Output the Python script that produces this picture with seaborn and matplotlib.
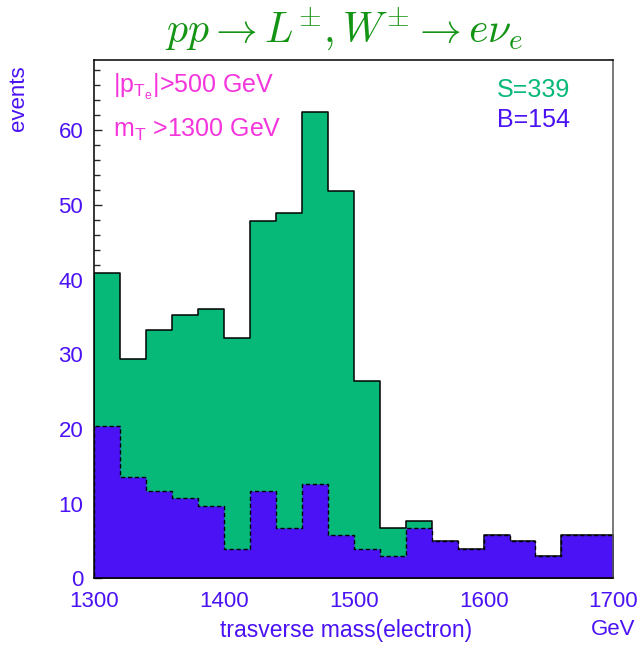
import numpy as np
import pandas as pd
import seaborn as sns
import matplotlib.pyplot as plt

# bin low edges (GeV), 20 GeV wide
mass_lo = [1300, 1320, 1340, 1360, 1380, 1400, 1420, 1440, 1460, 1480,
           1500, 1520, 1540, 1560, 1580, 1600, 1620, 1640, 1660, 1680]
bin_width = 20

# signal + background (green) and background only (blue)
total = [40.9, 29.3, 33.2, 35.2, 36.1, 32.2, 47.9, 48.9, 62.5, 51.8,
         26.4, 6.8, 7.7, 4.96, 3.9, 5.85, 4.96, 2.95, 5.85, 5.85]
background = [20.4, 13.6, 11.7, 10.7, 9.7, 3.9, 11.7, 6.8, 12.6, 5.85,
              3.9, 2.95, 6.8, 4.96, 3.9, 5.85, 4.96, 2.95, 5.85, 5.85]

x_ticks = [1300, 1400, 1500, 1600, 1700]
y_ticks = [0, 10, 20, 30, 40, 50, 60]

green = "#06B978"
blue = "#4A12F4"
pink = "#F535DC"
title_green = "#149414"

sns.set_style("ticks")
plt.rcParams['font.family'] = ['Liberation Sans', 'DejaVu Sans']
plt.rcParams['mathtext.fontset'] = 'custom'
plt.rcParams['mathtext.rm'] = 'Liberation Sans'
plt.rcParams['mathtext.it'] = 'Liberation Sans:italic'

df = pd.DataFrame({
    "mass": np.array(mass_lo) + bin_width / 2,
    "total": total,
    "background": background,
})
edges = mass_lo + [mass_lo[-1] + bin_width]

fig = plt.figure(figsize=(6.39, 6.45), dpi=100)
ax = fig.add_axes([0.1476, 0.1034, 0.8122, 0.8036])

sns.histplot(data=df, x="mass", weights="total", bins=edges, element="step",
             fill=True, color=green, alpha=1, edgecolor="black", linewidth=1.1,
             ax=ax)
sns.histplot(data=df, x="mass", weights="background", bins=edges, element="step",
             fill=True, color=blue, alpha=1, edgecolor="black", linewidth=1.0,
             linestyle=(0, (3, 2)), ax=ax)

ax.set_xlim(1300, 1700)
ax.set_ylim(0, 69.4)
ax.set_xticks(x_ticks)
ax.set_yticks(y_ticks)
ax.set_yticks(np.arange(0, 70, 2), minor=True)
ax.tick_params(axis='y', which='major', direction='in', length=6, width=1,
               labelsize=16, labelcolor=blue, pad=8)
ax.tick_params(axis='y', which='minor', direction='in', length=4, width=1)
ax.tick_params(axis='x', which='major', length=0, labelsize=16,
               labelcolor=blue, pad=9)
ax.set_xlabel("")
ax.set_ylabel("")
for s in ax.spines.values():
    s.set_visible(True)
    s.set_linewidth(1.1)
    s.set_color("black")
ax.spines['right'].set_color("#555555")

fig.text(0.542, 0.013, "trasverse mass(electron)", color=blue,
         fontsize=16.5, ha="center", va="baseline")
fig.text(0.994, 0.0155, "GeV", color=blue, fontsize=16, ha="right", va="baseline")
fig.text(0.029, 0.898, "events", color=blue, fontsize=16, rotation=90,
         ha="center", va="top")

fig.text(0.538, 0.933, r"$pp \rightarrow L^{\pm}, W^{\pm} \rightarrow e\nu_e$",
         color=title_green, fontsize=30, ha="center", va="baseline",
         math_fontfamily="cm")

ax.text(0.036, 0.936, r"|p$_{\mathrm{T_e}}$|>500 GeV", transform=ax.transAxes,
        color=pink, fontsize=18, ha="left", va="baseline")
ax.text(0.036, 0.851, r"m$_{\mathrm{T}}$ >1300 GeV", transform=ax.transAxes,
        color=pink, fontsize=18, ha="left", va="baseline")
ax.text(0.776, 0.928, "S=339", transform=ax.transAxes,
        color=green, fontsize=18, ha="left", va="baseline")
ax.text(0.776, 0.870, "B=154", transform=ax.transAxes,
        color=blue, fontsize=18, ha="left", va="baseline")

fig.savefig("out.png", dpi=100)
